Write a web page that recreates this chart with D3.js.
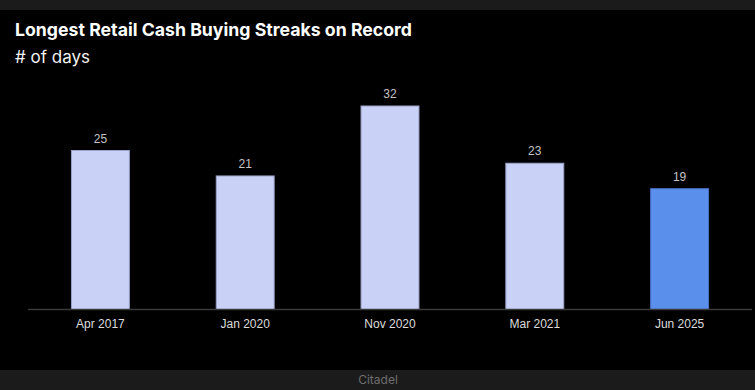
<!DOCTYPE html>
<html>
<head>
<meta charset="utf-8">
<script src="https://cdn.jsdelivr.net/npm/d3@7"></script>
<style>
  html, body { margin: 0; padding: 0; background: #000; }
  svg { display: block; }
</style>
</head>
<body>
<script>
// chart data
var categories = ["Apr 2017", "Jan 2020", "Nov 2020", "Mar 2021", "Jun 2025"];
var streakDays = [25, 21, 32, 23, 19];
var highlight = ["Jun 2025"];

var W = 755, H = 390;
var baseY = 309.5, topY = 106;

var svg = d3.select("body").append("svg")
  .attr("width", W)
  .attr("height", H);

// background + top/bottom strips
svg.append("rect").attr("width", W).attr("height", H).attr("fill", "#000");
svg.append("rect").attr("width", W).attr("height", 10).attr("fill", "#1b1b1b");
svg.append("rect").attr("y", 370).attr("width", W).attr("height", 20).attr("fill", "#1b1b1b");

svg.append("text")
  .attr("x", 378).attr("y", 383.5)
  .attr("text-anchor", "middle")
  .attr("font-family", "Inter, 'Noto Sans', sans-serif")
  .attr("font-size", 12)
  .attr("fill", "#6e6e6e")
  .text("Citadel");

// titles
svg.append("text")
  .attr("x", 15).attr("y", 36)
  .attr("font-family", "Inter, 'Noto Sans', sans-serif")
  .attr("font-weight", "bold")
  .attr("font-size", 17.7)
  .attr("fill", "#fff")
  .text("Longest Retail Cash Buying Streaks on Record");

svg.append("text")
  .attr("x", 15).attr("y", 63)
  .attr("font-family", "Inter, 'Noto Sans', sans-serif")
  .attr("font-size", 17)
  .attr("fill", "#f2f2f2")
  .text("# of days");

// scales
var x = d3.scaleBand()
  .domain(categories)
  .range([28, 752])
  .paddingInner(0.6)
  .paddingOuter(0.3);

var y = d3.scaleLinear()
  .domain([0, 32])
  .range([baseY, topY]);

var data = categories.map(function (c, i) { return { cat: c, v: streakDays[i] }; });

// bars
svg.selectAll("rect.bar")
  .data(data)
  .enter()
  .append("rect")
  .attr("class", "bar")
  .attr("x", function (d) { return x(d.cat); })
  .attr("y", function (d) { return y(d.v); })
  .attr("width", x.bandwidth())
  .attr("height", function (d) { return baseY - y(d.v); })
  .attr("fill", function (d) { return highlight.indexOf(d.cat) >= 0 ? "#5b8fec" : "#c9d1f7"; })
  .attr("stroke", function (d) { return highlight.indexOf(d.cat) >= 0 ? "#4a72c4" : "#9aa2c8"; })
  .attr("stroke-width", 1);

// value labels
svg.selectAll("text.val")
  .data(data)
  .enter()
  .append("text")
  .attr("class", "val")
  .attr("x", function (d) { return x(d.cat) + x.bandwidth() / 2; })
  .attr("y", function (d) { return y(d.v) - 8; })
  .attr("text-anchor", "middle")
  .attr("font-family", "'Liberation Sans', Arial, sans-serif")
  .attr("font-size", 12)
  .attr("fill", "#c4c4c4")
  .text(function (d) { return d.v; });

// x axis
var xAxis = svg.append("g")
  .attr("transform", "translate(0," + baseY + ")")
  .call(d3.axisBottom(x).tickSize(0).tickPadding(10));
xAxis.select(".domain").attr("stroke", "#3a3a3a").attr("stroke-width", 1.5)
  .attr("d", "M28,0H752");
xAxis.selectAll("text")
  .attr("font-family", "'Liberation Sans', Arial, sans-serif")
  .attr("font-size", 12)
  .attr("fill", "#dcdcdc");
</script>
</body>
</html>
